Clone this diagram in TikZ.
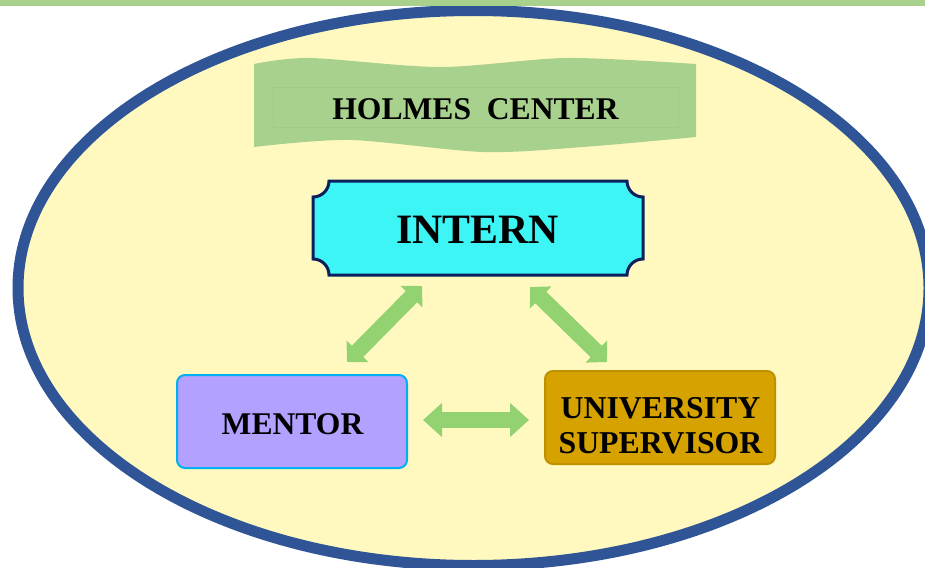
\documentclass[tikz,border=0pt]{standalone}
\usepackage{fontspec}
\setmainfont{Liberation Serif}
\usetikzlibrary{arrows.meta}
\definecolor{bargreen}{HTML}{A9D18E}
\definecolor{ellfill}{HTML}{FFF9C0}
\definecolor{ellblue}{HTML}{2F5597}
\definecolor{bannergreen}{HTML}{A9D18E}
\definecolor{bannerline}{HTML}{A0CA86}
\definecolor{interncyan}{HTML}{3DF5F5}
\definecolor{internnavy}{HTML}{0A1F5E}
\definecolor{mentorfill}{HTML}{B4A0FF}
\definecolor{mentorline}{HTML}{00B0F0}
\definecolor{univfill}{HTML}{D5A200}
\definecolor{univline}{HTML}{BF9000}
\definecolor{arrowgreen}{HTML}{93D271}
\tikzset{
  txt/.style={inner sep=0pt, anchor=base, text=black},
  roundbox/.style={rounded corners=8pt, line width=2pt, minimum width=230pt, minimum height=93pt, inner sep=0pt},
  biarrow/.style={draw=arrowgreen, line width=16pt, {Triangle[length=15pt,width=30pt]}-{Triangle[length=15pt,width=30pt]}},
  biarrowh/.style={draw=arrowgreen, line width=15.6pt, {Triangle[length=19pt,width=33pt]}-{Triangle[length=19pt,width=33pt]}}
}
\begin{document}
\begin{tikzpicture}[x=1pt,y=-1pt]
\useasboundingbox (0,0) rectangle (925,567);
\clip (0,0) rectangle (925,567);
\fill[white] (0,0) rectangle (925,567);
% big ellipse
\draw[fill=ellfill, draw=ellblue, line width=11pt] (473.5,288) ellipse [x radius=455.5, y radius=277.5];
% top bar
\fill[bargreen] (0,0) rectangle (925,6);
% banner
\fill[bannergreen] plot[smooth] coordinates {(254,64) (310,58) (440,67) (567,58) (696,64)}
  -- plot[smooth] coordinates {(696,137) (583,147) (483,152) (350,140) (254,147)} -- cycle;
\draw[bannerline, line width=0.6pt] (273,87) rectangle (678,127);
\node[txt, font=\bfseries\fontsize{31.6}{31.6}\selectfont] (holmes) at (475.5,120) {HOLMES~~CENTER};
% intern plaque
\draw[fill=interncyan, draw=internnavy, line width=3pt]
  (329,181) -- (627,181) arc[start angle=180, end angle=90, radius=16]
  -- (643,259) arc[start angle=270, end angle=180, radius=16]
  -- (329,275) arc[start angle=0, end angle=-90, radius=16]
  -- (313,197) arc[start angle=90, end angle=0, radius=16] -- cycle;
\node[txt, font=\bfseries\fontsize{41.8}{41.8}\selectfont] (intern) at (477.5,243) {INTERN};
% boxes
\node[roundbox, draw=mentorline, fill=mentorfill] (mentorbox) at (292,421.5) {};
\node[txt, font=\bfseries\fontsize{31.6}{31.6}\selectfont] (mentor) at (292.5,434) {MENTOR};
\node[roundbox, draw=univline, fill=univfill] (univbox) at (660,417.5) {};
\node[txt, font=\bfseries\fontsize{31.8}{31.8}\selectfont] (univ) at (660.5,418) {UNIVERSITY};
\node[txt, font=\bfseries\fontsize{31.8}{31.8}\selectfont] (super) at (660.5,453) {SUPERVISOR};
% arrows
\coordinate (lA) at (347,362);
\coordinate (lB) at (422,286);
\coordinate (rA) at (530,287);
\coordinate (rB) at (607,362);
\coordinate (hA) at (423,420);
\coordinate (hB) at (529,420);
\draw[biarrow] (lA) -- (lB);
\draw[biarrow] (rA) -- (rB);
\draw[biarrowh] (hA) -- (hB);
\end{tikzpicture}
\end{document}
